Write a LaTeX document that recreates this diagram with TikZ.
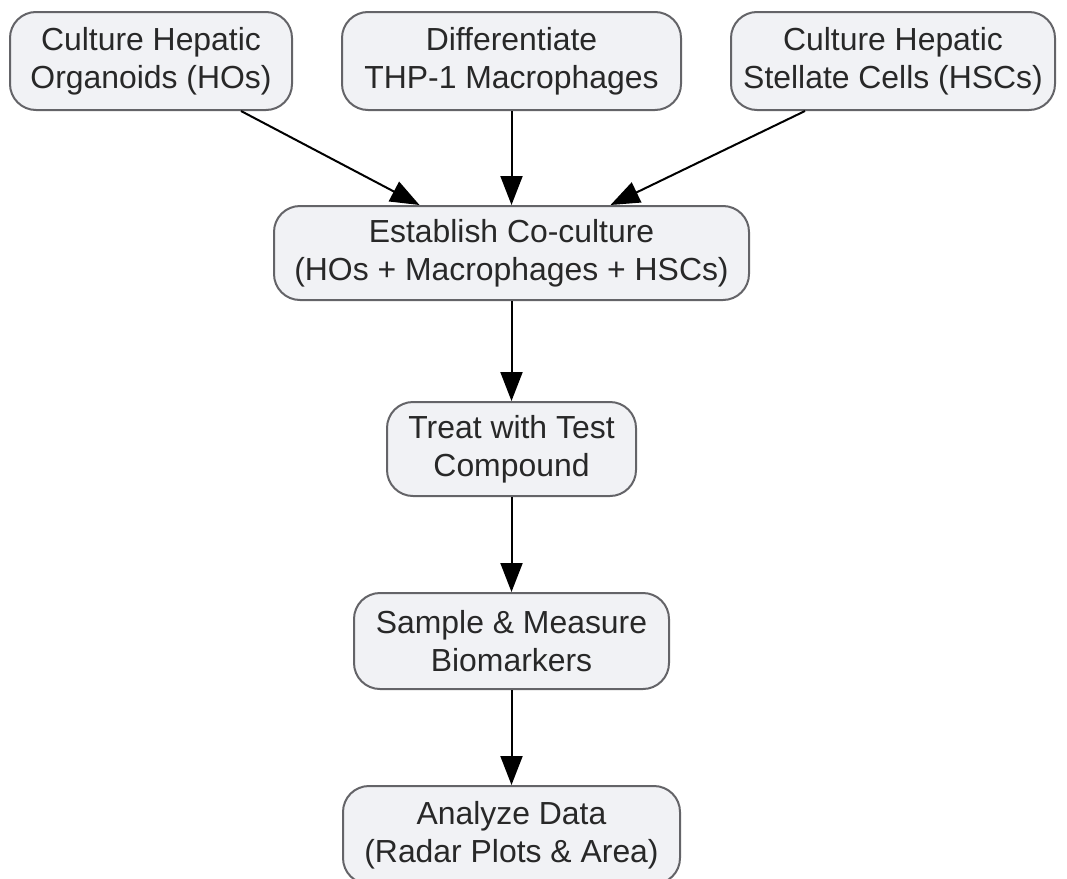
\documentclass[tikz,border=0pt]{standalone}
\usepackage{fontspec}
\setmainfont{Liberation Sans}
\usetikzlibrary{arrows.meta}
\definecolor{boxfill}{RGB}{241,242,245}
\definecolor{boxline}{RGB}{100,100,104}
\definecolor{txt}{RGB}{40,40,40}
\begin{document}
\begin{tikzpicture}[x=1pt,y=-1pt,
  box/.style={draw=boxline, line width=2pt, fill=boxfill, rounded corners=26pt,
    align=center, text=txt, inner sep=0pt,
    font=\fontsize{31.9}{38}\selectfont},
  conn/.style={line width=2pt, -{Triangle[length=29pt,width=22pt]}}]
\useasboundingbox (0,0) rectangle (1067,878);
\node[box, minimum width=282pt, minimum height=98pt] (n1) at (151,61) {Culture Hepatic\\Organoids (HOs)};
\node[box, minimum width=339pt, minimum height=98pt] (n2) at (511.5,61) {Differentiate\\THP-1 Macrophages};
\node[box, minimum width=324pt, minimum height=98pt] (n3) at (893,61) {Culture Hepatic\\Stellate Cells (HSCs)};
\node[box, minimum width=475pt, minimum height=94pt] (n4) at (511.5,253) {Establish Co-culture\\(HOs + Macrophages + HSCs)};
\node[box, minimum width=249pt, minimum height=94pt] (n5) at (511.5,449) {Treat with Test\\Compound};
\node[box, minimum width=315pt, minimum height=96pt] (n6) at (511.5,641) {Sample \& Measure\\Biomarkers};
\node[box, minimum width=337pt, minimum height=98pt] (n7) at (511.5,835) {Analyze Data\\(Radar Plots \& Area)};
\draw[conn] ([xshift=90pt]n1.south) -- ([xshift=-92pt]n4.north);
\draw[conn] (n2.south) -- (n4.north);
\draw[conn] ([xshift=-88pt]n3.south) -- ([xshift=99pt]n4.north);
\draw[conn] (n4.south) -- (n5.north);
\draw[conn] (n5.south) -- (n6.north);
\draw[conn] (n6.south) -- (n7.north);
\end{tikzpicture}
\end{document}
